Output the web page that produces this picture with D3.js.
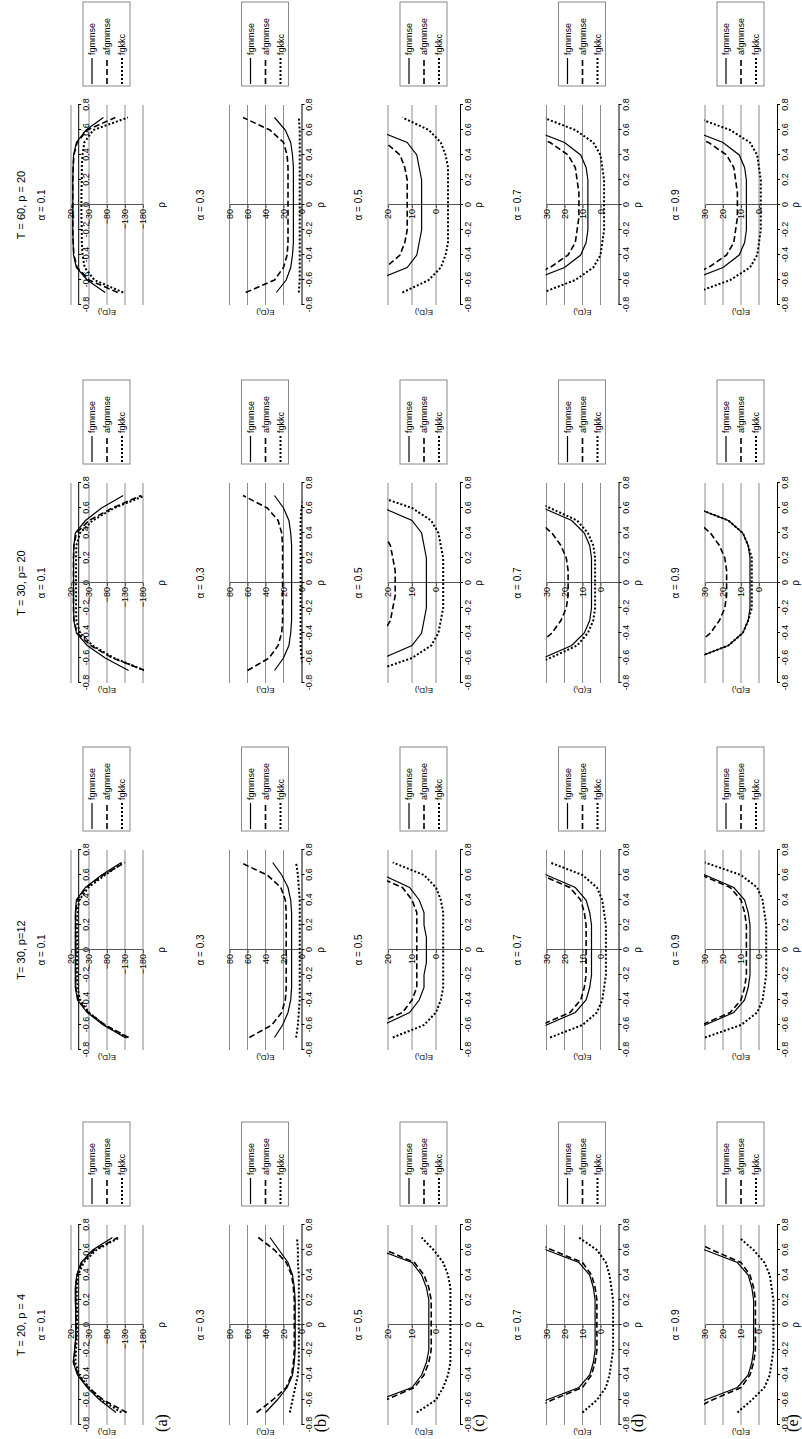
<!DOCTYPE html>
<html lang="en">
<head>
<meta charset="utf-8">
<title>E(D_t) by rho</title>
<style>
  body { margin: 0; background: #fff; }
  svg { display: block; background: #fff; }
  text { font-family: "Liberation Sans", Arial, sans-serif; fill: #000; }
  .rowLetter { font-family: "Liberation Serif", "Times New Roman", serif; }
</style>
</head>
<body>
<div id="viz"></div>
<script src="https://d3js.org/d3.v7.min.js"></script>
<script>
// rho grid of every series, and the tick labels of the rho axis
const rhoValues = [-0.7, -0.6, -0.5, -0.4, -0.3, -0.2, -0.1, 0, 0.1, 0.2, 0.3, 0.4, 0.5, 0.6, 0.7];
const rhoTicks = [-0.8, -0.6, -0.4, -0.2, 0, 0.2, 0.4, 0.6, 0.8];

const columnTitles = ["T = 20, p = 4", "T= 30, p=12", "T = 30, p= 20", "T = 60, p = 20"];
const alphaLabels = ["\u03b1 = 0.1", "\u03b1 = 0.3", "\u03b1 = 0.5", "\u03b1 = 0.7", "\u03b1 = 0.9"];
const rowLetters = ["(a)", "(b)", "(c)", "(d)", "(e)"];
const seriesNames = ["fgmmse", "afgmmse", "fgkkc"];

// value axis of each row: domain, tick step, where the rho axis crosses
const yDomains = [[-180, 20], [0, 80], [-10, 20], [-10, 30], [-10, 30]];
const yTickSteps = [50, 20, 10, 10, 10];
const axisCross = [0, 0, -10, -10, -10];

// one array per series and column, one row per alpha
const fgmmse_T20p4 = [
  [-105, -60, -25, 2, 14, 10, 7, 7, 7, 8, 8, 4, -8, -40, -95],
  [40, 27, 16, 10, 8, 7, 7, 7, 7, 7, 8, 10, 15, 25, 35],
  [40, 24, 10, 6, 4, 3, 3, 3, 3, 3, 4, 6, 10, 24, 40],
  [45, 30, 12, 6, 4, 3, 3, 3, 3, 3, 4, 6, 12, 30, 45],
  [45, 30, 12, 6, 4, 3, 3, 3, 3, 3, 4, 6, 12, 30, 45]
];
const afgmmse_T20p4 = [
  [-135, -70, -28, 0, 12, 9, 6, 6, 6, 7, 7, 3, -10, -45, -110],
  [50, 32, 17, 11, 9, 8, 8, 8, 8, 8, 9, 11, 17, 30, 48],
  [36, 21, 9, 5, 3, 2, 2, 2, 2, 2, 3, 5, 9, 21, 36],
  [42, 27, 10, 5, 3, 2, 2, 2, 2, 2, 3, 5, 10, 27, 42],
  [40, 26, 10, 5, 3, 2, 2, 2, 2, 2, 3, 5, 10, 26, 40]
];
const fgkkc_T20p4 = [
  [-120, -65, -30, -3, 8, 6, 4, 3, 3, 4, 4, 0, -15, -50, -115],
  [13, 10, 7, 4, 3, 3, 3, 3, 3, 3, 3, 3, 4, 4, 5],
  [8, 0, -3, -5, -6, -6, -6, -6, -6, -6, -6, -5, -3, 1, 6],
  [10, 2, -3, -5, -6, -7, -7, -7, -7, -7, -6, -5, -3, 2, 12],
  [12, 4, -3, -6, -7, -8, -8, -8, -8, -8, -7, -6, -3, 3, 11]
];

const fgmmse_T30p12 = [
  [-130, -70, -25, 2, 8, 8, 8, 8, 8, 8, 8, 5, -20, -65, -120],
  [30, 21, 15, 12, 11, 11, 11, 11, 11, 11, 11, 12, 15, 22, 32],
  [40, 22, 11, 7, 5, 5, 4, 4, 4, 5, 5, 7, 11, 22, 40],
  [50, 30, 14, 8, 6, 5, 5, 5, 5, 5, 6, 8, 14, 30, 50],
  [50, 30, 14, 8, 6, 5, 5, 5, 5, 5, 6, 8, 14, 30, 50]
];
const afgmmse_T30p12 = [
  [-140, -75, -28, 0, 7, 7, 7, 7, 7, 7, 7, 3, -22, -70, -130],
  [58, 33, 22, 18, 17, 17, 17, 17, 17, 17, 17, 18, 23, 38, 68],
  [45, 26, 14, 10, 8, 8, 8, 8, 8, 8, 8, 10, 14, 26, 45],
  [55, 33, 17, 11, 9, 8, 8, 8, 8, 8, 9, 11, 17, 33, 55],
  [55, 32, 16, 10, 8, 7, 7, 7, 7, 7, 8, 10, 16, 32, 55]
];
const fgkkc_T30p12 = [
  [-135, -72, -30, -5, 2, 3, 3, 3, 3, 3, 2, -3, -28, -75, -125],
  [6, 4, 3, 2, 2, 2, 2, 2, 2, 2, 2, 2, 3, 4, 6],
  [18, 5, 0, -2, -3, -3, -3, -3, -3, -3, -3, -2, 0, 5, 18],
  [28, 10, 2, -1, -2, -3, -3, -3, -3, -3, -2, -1, 2, 10, 28],
  [30, 10, 1, -2, -3, -4, -4, -4, -4, -4, -3, -2, 1, 10, 30]
];

const fgmmse_T30p20 = [
  [-140, -75, -25, 5, 12, 13, 13, 13, 13, 13, 12, 8, -20, -65, -125],
  [30, 20, 14, 12, 11, 11, 11, 11, 11, 11, 11, 12, 14, 20, 30],
  [40, 22, 10, 6, 5, 4, 4, 4, 4, 4, 5, 6, 10, 22, 40],
  [50, 32, 16, 9, 6, 5, 5, 5, 5, 5, 6, 9, 16, 32, 50],
  [55, 35, 17, 9, 6, 5, 5, 5, 5, 5, 6, 9, 17, 35, 55]
];
const afgmmse_T30p20 = [
  [-185, -95, -35, 3, 12, 13, 13, 13, 13, 13, 12, 5, -30, -95, -175],
  [60, 36, 26, 22, 21, 21, 21, 21, 21, 21, 21, 22, 26, 38, 65],
  [60, 40, 28, 22, 19, 18, 17, 17, 17, 18, 19, 22, 28, 40, 60],
  [70, 48, 35, 27, 22, 19, 18, 18, 18, 19, 22, 27, 35, 48, 70],
  [70, 48, 35, 27, 22, 19, 18, 18, 18, 19, 22, 27, 35, 48, 70]
];
const fgkkc_T30p20 = [
  [-185, -100, -40, -5, 5, 6, 6, 6, 6, 6, 5, -5, -40, -100, -185],
  [-4, 0, 1, 1, 1, 1, 1, 1, 1, 1, 1, 1, 1, 0, -3],
  [25, 10, 2, -1, -2, -3, -3, -3, -3, -3, -2, -1, 2, 10, 25],
  [45, 28, 13, 7, 4, 3, 3, 3, 3, 3, 4, 7, 13, 28, 45],
  [55, 35, 17, 9, 6, 4, 4, 4, 4, 4, 6, 9, 17, 35, 55]
];

const fgmmse_T60p20 = [
  [-75, -25, 5, 13, 14, 15, 15, 15, 15, 15, 14, 13, 5, -22, -70],
  [28, 17, 12, 10, 9, 9, 9, 9, 9, 9, 9, 10, 12, 18, 30],
  [40, 25, 12, 8, 7, 6, 6, 6, 6, 6, 7, 8, 12, 25, 40],
  [55, 38, 20, 11, 8, 7, 7, 7, 7, 7, 8, 11, 20, 38, 55],
  [55, 38, 20, 11, 8, 7, 7, 7, 7, 7, 8, 11, 20, 38, 55]
];
const afgmmse_T60p20 = [
  [-110, -30, 3, 12, 14, 15, 15, 15, 15, 15, 14, 12, 3, -25, -103],
  [62, 30, 20, 16, 15, 15, 15, 15, 15, 15, 15, 16, 20, 35, 65],
  [55, 35, 21, 15, 13, 12, 12, 12, 12, 12, 13, 15, 21, 35, 55],
  [65, 45, 28, 18, 14, 13, 12, 12, 12, 13, 14, 18, 28, 45, 65],
  [65, 45, 28, 18, 14, 13, 12, 12, 12, 13, 14, 18, 28, 45, 65]
];
const fgkkc_T60p20 = [
  [-125, -45, -18, -12, -10, -10, -9, -9, -9, -10, -10, -12, -17, -42, -138],
  [3, 2, 2, 2, 2, 2, 2, 2, 2, 2, 2, 2, 2, 2, 3],
  [14, 3, -2, -4, -5, -5, -5, -5, -5, -5, -5, -4, -2, 3, 14],
  [32, 14, 4, 0, -1, -2, -2, -2, -2, -2, -1, 0, 4, 14, 32],
  [35, 16, 5, 1, 0, -1, -1, -1, -1, -1, 0, 1, 5, 16, 35]
];

const panelData = [
  [fgmmse_T20p4, afgmmse_T20p4, fgkkc_T20p4],
  [fgmmse_T30p12, afgmmse_T30p12, fgkkc_T30p12],
  [fgmmse_T30p20, afgmmse_T30p20, fgkkc_T30p20],
  [fgmmse_T60p20, afgmmse_T60p20, fgkkc_T60p20]
];

// the figure is laid out landscape, then turned a quarter left onto the page
const figW = 1439, figH = 802;
const colCenters = [114, 489, 856, 1234];
const halfWidth = 100;
const rowPitch = 158.5, firstTop = 71, plotH = 72;

const seriesStyle = [
  { dash: null, width: 1.2 },
  { dash: "6,3", width: 1.6 },
  { dash: "2,2", width: 2 }
];

const svg = d3.select("#viz").append("svg")
  .attr("width", 802)
  .attr("height", 1439);

const fig = svg.append("g")
  .attr("transform", `translate(0,${figW}) rotate(-90)`);

const fmtRho = d => d === 0 ? "0" : String(+d.toFixed(1));

columnTitles.forEach((title, c) => {
  const cx = colCenters[c];
  fig.append("text")
    .attr("x", cx).attr("y", 25)
    .attr("text-anchor", "middle")
    .attr("font-size", 11)
    .text(title);

  alphaLabels.forEach((alpha, r) => {
    const top = firstTop + rowPitch * r, bottom = top + plotH;
    const x = d3.scaleLinear().domain([-0.8, 0.8]).range([cx - halfWidth, cx + halfWidth]);
    const y = d3.scaleLinear().domain(yDomains[r]).range([bottom, top]);
    const yTicks = d3.range(yDomains[r][0], yDomains[r][1] + 0.001, yTickSteps[r]);
    const g = fig.append("g");

    const clipId = `clip-${c}-${r}`;
    g.append("clipPath").attr("id", clipId)
      .append("rect")
      .attr("x", x(-0.8)).attr("y", top - 1)
      .attr("width", x(0.8) - x(-0.8)).attr("height", plotH + 2);

    // gridlines
    g.append("g").selectAll("line")
      .data(yTicks.filter(v => v !== axisCross[r]))
      .join("line")
      .attr("x1", x(-0.8)).attr("x2", x(0.8))
      .attr("y1", d => y(d)).attr("y2", d => y(d))
      .attr("stroke", "#8c8c8c").attr("stroke-width", 1);

    // rho axis
    const xAx = g.append("g")
      .attr("transform", `translate(0,${y(axisCross[r])})`)
      .call(d3.axisBottom(x).tickValues(rhoTicks).tickSize(3).tickSizeOuter(0).tickFormat(fmtRho));
    xAx.attr("font-family", null).attr("font-size", 9);
    xAx.select(".domain").attr("stroke", "#000");
    xAx.selectAll(".tick line").attr("stroke", "#000");
    xAx.selectAll(".tick text").attr("dy", "0.55em").attr("y", 6);

    // value axis at rho = 0
    const shown = yTicks.filter(v => r === 0 || r === 1 || v >= 0);
    const yAx = g.append("g")
      .attr("transform", `translate(${x(0)},0)`)
      .call(d3.axisLeft(y).tickValues(shown).tickSize(3).tickSizeOuter(0).tickFormat(d3.format("d")));
    yAx.attr("font-family", null).attr("font-size", 9);
    yAx.select(".domain").attr("stroke", "#555");
    yAx.selectAll(".tick line").attr("stroke", "#555");
    yAx.selectAll(".tick text").attr("x", -4);

    // series
    const line = d3.line()
      .x((d, i) => x(rhoValues[i]))
      .y(d => y(d));
    const lines = g.append("g").attr("clip-path", `url(#${clipId})`);
    panelData[c].forEach((series, s) => {
      lines.append("path")
        .datum(series[r])
        .attr("d", line)
        .attr("fill", "none")
        .attr("stroke", "#000")
        .attr("stroke-width", seriesStyle[s].width)
        .attr("stroke-dasharray", seriesStyle[s].dash);
    });

    // labels
    g.append("text")
      .attr("x", cx).attr("y", firstTop - 26 + rowPitch * r)
      .attr("text-anchor", "middle")
      .attr("font-size", 10)
      .text(alpha);

    g.append("text")
      .attr("x", cx).attr("y", top + 94)
      .attr("text-anchor", "middle")
      .attr("font-size", 10)
      .text("\u03c1");

    const yl = g.append("text")
      .attr("transform", `translate(${x(-0.8) - 5},${(top + bottom) / 2}) rotate(-90)`)
      .attr("text-anchor", "middle")
      .attr("font-size", 8);
    yl.append("tspan").text("E(D");
    yl.append("tspan").attr("font-size", 6).attr("dy", 2).text("t");
    yl.append("tspan").attr("dy", -2).text(")");

    // legend
    const lx = cx + 119, ly = top + 12;
    const leg = g.append("g").attr("transform", `translate(${lx},${ly})`);
    leg.append("rect")
      .attr("width", 84).attr("height", 47)
      .attr("fill", "#fff").attr("stroke", "#888");
    seriesNames.forEach((name, s) => {
      const yy = 9 + 15 * s;
      leg.append("line")
        .attr("x1", 2).attr("x2", 28).attr("y1", yy).attr("y2", yy)
        .attr("stroke", "#000")
        .attr("stroke-width", seriesStyle[s].width)
        .attr("stroke-dasharray", seriesStyle[s].dash);
      leg.append("text")
        .attr("x", 31).attr("y", yy + 3)
        .attr("font-size", 9)
        .text(name);
    });

    if (c === 0) {
      fig.append("text")
        .attr("class", "rowLetter")
        .attr("x", 16).attr("y", Math.min(167 + rowPitch * r, 798))
        .attr("text-anchor", "middle")
        .attr("font-size", 16)
        .text(rowLetters[r]);
    }
  });
});
</script>
</body>
</html>
